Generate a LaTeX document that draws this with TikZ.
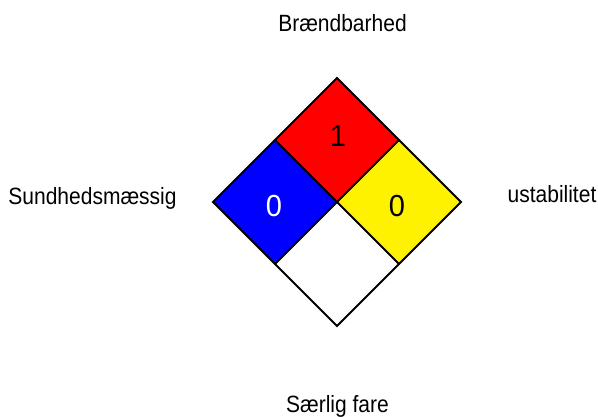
\documentclass[tikz,border=0pt]{standalone}
\usepackage{fontspec}
\setmainfont{Liberation Sans}
\begin{document}
\begin{tikzpicture}[x=1pt,y=-1pt,
  lbl/.style={anchor=base,inner sep=0pt,font=\fontsize{21}{24}\selectfont,yscale=1.12,transform shape},
  num/.style={anchor=center,inner sep=0pt,font=\fontsize{29}{32}\selectfont,yscale=1.05,transform shape},
  cell/.style={draw=black,line width=1.8pt,line join=miter}]
\useasboundingbox[fill=white] (0,0) rectangle (598,416);
\coordinate (T) at (337,78);
\coordinate (L) at (213,202);
\coordinate (R) at (461,202);
\coordinate (B) at (337,326);
\coordinate (C) at (337,202);
\coordinate (TL) at (275,140);
\coordinate (TR) at (399,140);
\coordinate (BL) at (275,264);
\coordinate (BR) at (399,264);
\fill[red] (T) -- (TR) -- (C) -- (TL) -- cycle;
\fill[blue] (TL) -- (C) -- (BL) -- (L) -- cycle;
\fill[yellow] (TR) -- (R) -- (BR) -- (C) -- cycle;
\fill[white] (C) -- (BR) -- (B) -- (BL) -- cycle;
\draw[cell] (T) -- (R) -- (B) -- (L) -- cycle;
\draw[cell] (TL) -- (BR);
\draw[cell] (TR) -- (BL);
\node[num,text=black] (n1) at (338,136) {1};
\node[num,text=white] (n2) at (274,206) {0};
\node[num,text=black] (n3) at (397,206) {0};
\node[lbl] (top) at (342.5,31) {Brændbarhed};
\node[lbl] (left) at (92.5,204) {Sundhedsmæssig};
\node[lbl] (right) at (552,202) {ustabilitet};
\node[lbl] (bottom) at (337.5,412) {Særlig fare};
\end{tikzpicture}
\end{document}
